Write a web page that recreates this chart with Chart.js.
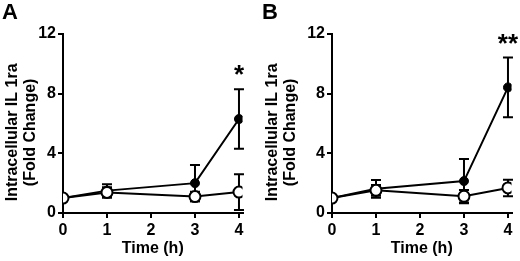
<!DOCTYPE html>
<html>
<head>
<meta charset="utf-8">
<script src="https://cdn.jsdelivr.net/npm/chart.js@4/dist/chart.umd.min.js"></script>
<style>
  body { margin: 0; background: #fff; }
  .panel { position: absolute; top: 0; width: 260px; height: 261px; }
</style>
</head>
<body>
<div class="panel" style="left:0"><canvas id="chartA" width="260" height="261"></canvas></div>
<div class="panel" style="left:260px"><canvas id="chartB" width="260" height="261"></canvas></div>
<script>
"use strict";

const timeH = [0, 1, 3, 4];
const yTicks = [0, 4, 8, 12];
const xTicks = [0, 1, 2, 3, 4];
// trailing spaces push the rotated title a bit lower, as in the original
const yTitle = ['Intracellular IL 1ra    ', '(Fold Change)    '];

// panel A
const filledA = [1.0, 1.5, 2.0, 6.3];
const filledErrA = [0, 0.42, 1.22, 2.0];
const openA = [1.0, 1.38, 1.1, 1.4];
const openErrA = [0, 0.35, 0.32, 1.2];
const starsA = ['', '', '', '*'];

// panel B
const filledB = [1.0, 1.62, 2.14, 8.42];
const filledErrB = [0, 0.6, 1.48, 2.0];
const openB = [1.0, 1.52, 1.12, 1.68];
const openErrB = [0, 0.36, 0.42, 0.55];
const starsB = ['', '', '', '**'];

const FONT = '"Liberation Sans", Arial, sans-serif';

const errorBars = {
  id: 'errorBars',
  beforeDatasetsDraw(chart) {
    const { ctx, scales: { x, y } } = chart;
    ctx.save();
    ctx.strokeStyle = '#000';
    ctx.lineWidth = 2;
    chart.data.datasets.forEach(ds => {
      ds.data.forEach((p, i) => {
        const e = ds.err[i];
        if (!e) return;
        const px = x.getPixelForValue(p.x);
        const top = y.getPixelForValue(p.y + e);
        const bot = y.getPixelForValue(Math.max(p.y - e, 0));
        ctx.beginPath();
        ctx.moveTo(px, top); ctx.lineTo(px, bot);
        ctx.moveTo(px - 5, top); ctx.lineTo(px + 5, top);
        ctx.moveTo(px - 5, bot); ctx.lineTo(px + 5, bot);
        ctx.stroke();
      });
    });
    ctx.restore();
  },
  afterDraw(chart, args, opts) {
    const { ctx, scales: { x, y } } = chart;
    ctx.save();
    ctx.fillStyle = '#000';
    ctx.textAlign = 'center';
    ctx.textBaseline = 'alphabetic';
    ctx.font = 'bold 26px ' + FONT;
    const ds = chart.data.datasets[1];
    opts.stars.forEach((s, i) => {
      if (!s) return;
      const p = ds.data[i];
      const px = x.getPixelForValue(p.x);
      const top = y.getPixelForValue(p.y + ds.err[i]);
      ctx.fillText(s, px, top - 6);
    });
    ctx.font = 'bold 22px ' + FONT;
    ctx.textAlign = 'left';
    ctx.textBaseline = 'top';
    ctx.fillText(opts.letter, 2, 2);
    ctx.restore();
  }
};

function points(xs, ys) {
  return xs.map((v, i) => ({ x: v, y: ys[i] }));
}

function makeChart(id, letter, filled, filledErr, open, openErr, stars, yWidth, padRight) {
  return new Chart(document.getElementById(id), {
    type: 'line',
    data: {
      datasets: [
        {
          data: points(timeH, open), err: openErr, order: 0,
          borderColor: '#000', borderWidth: 2,
          pointRadius: 5.5, pointBorderWidth: 2,
          pointBackgroundColor: '#fff', pointBorderColor: '#000',
        },
        {
          data: points(timeH, filled), err: filledErr, order: 1,
          borderColor: '#000', borderWidth: 2,
          pointRadius: 4.5, pointBorderWidth: 1,
          pointBackgroundColor: '#000', pointBorderColor: '#000',
        },
      ],
    },
    options: {
      responsive: false,
      animation: false,
      layout: { padding: { top: 34, right: padRight, bottom: 0, left: 0 } },
      plugins: {
        legend: { display: false },
        tooltip: { enabled: false },
        errorBars: { stars: stars, letter: letter },
      },
      scales: {
        x: {
          type: 'linear', min: 0, max: 4.08,
          afterBuildTicks: s => { s.ticks = xTicks.map(v => ({ value: v })); },
          afterFit: s => { s.height = 48; },
          grid: { drawOnChartArea: false, tickLength: 5, color: '#000', lineWidth: 2 },
          border: { color: '#000', width: 2 },
          ticks: { color: '#000', padding: 3, font: { family: FONT, size: 16, weight: 'bold' }, maxRotation: 0 },
          title: { display: true, text: 'Time (h)', color: '#000', padding: { top: 0, bottom: 3 },
                   font: { family: FONT, size: 16, weight: 'bold' } },
        },
        y: {
          min: 0, max: 12,
          afterBuildTicks: s => { s.ticks = yTicks.map(v => ({ value: v })); },
          afterFit: s => { s.width = yWidth; },
          grid: { drawOnChartArea: false, tickLength: 5, color: '#000', lineWidth: 2 },
          border: { color: '#000', width: 2 },
          ticks: { color: '#000', padding: 2, font: { family: FONT, size: 16, weight: 'bold' } },
          title: { display: true, text: yTitle, color: '#000',
                   padding: { top: 3, bottom: 0 },
                   font: { family: FONT, size: 16, weight: 'bold', lineHeight: 1.15 } },
        },
      },
    },
    plugins: [errorBars],
  });
}

makeChart('chartA', 'A', filledA, filledErrA, openA, openErrA, starsA, 63, 17.5);
makeChart('chartB', 'B', filledB, filledErrB, openB, openErrB, starsB, 72, 8.5);
</script>
</body>
</html>
